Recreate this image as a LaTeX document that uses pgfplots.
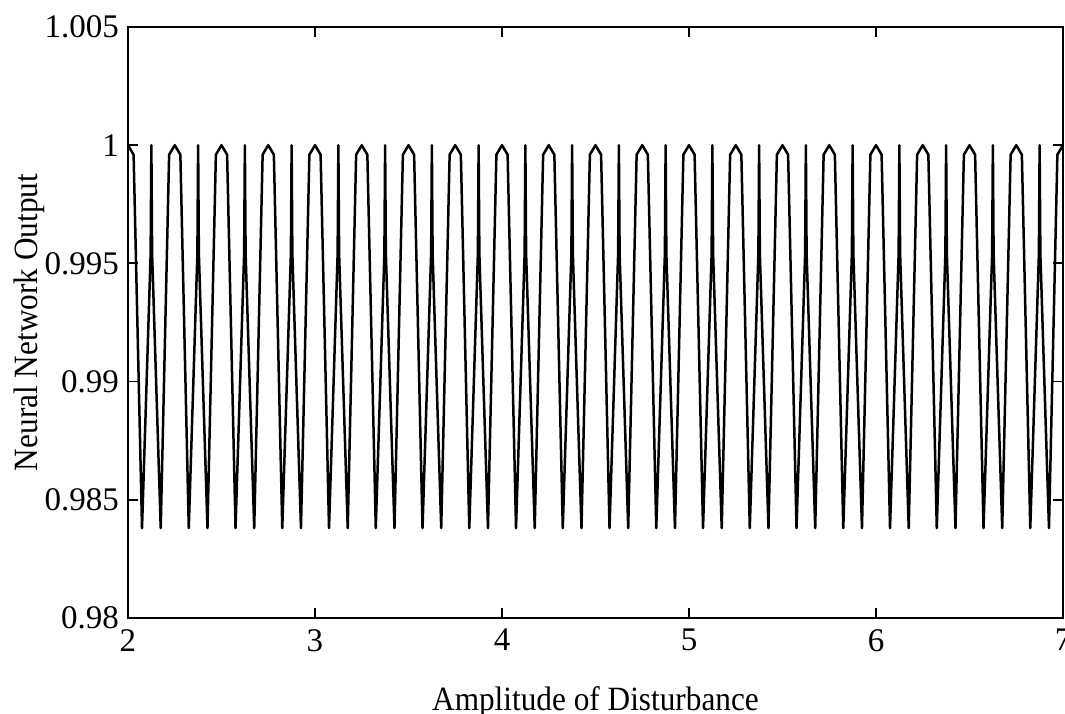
\documentclass[border=0pt]{standalone}
\usepackage{fontspec}
\setmainfont{Liberation Serif}
\newfontfamily\labfont[FakeStretch=0.92]{Liberation Serif}
\usepackage{pgfplots}
\pgfplotsset{compat=1.18}
\begin{document}
\begin{tikzpicture}
\begin{axis}[
  at={(0,0)}, anchor=south west,
  scale only axis, width=935bp, height=591bp,
  xmin=2, xmax=7, ymin=0.98, ymax=1.005,
  xtick={2,3,4,5,6,7}, xticklabels={2,3,4,5,6,7},
  ytick={0.98,0.985,0.99,0.995,1,1.005},
  yticklabels={0.98,0.985,0.99,0.995,1,1.005},
  scaled y ticks=false,
  tick align=inside, major tick length=10bp,
  axis line style={line width=2.2bp},
  every tick/.style={black, line width=1.8bp},
  ticklabel style={font=\fontsize{33bp}{33bp}\selectfont},
  yticklabel style={inner sep=0pt, xshift=-9bp},
  xticklabel style={inner sep=0pt, yshift=-11bp},
  xlabel={Amplitude of Disturbance},
  ylabel={Neural Network Output},
  label style={font=\labfont\fontsize{34bp}{34bp}\selectfont},
  xlabel style={at={(axis description cs:0.5,-0.1557)}, anchor=base},
  ylabel style={at={(axis description cs:-0.0973,0.5)}, anchor=base},
]
\addplot[black, line width=2.5bp, line join=round] coordinates {
(2.000,1.0000) (2.030,0.9996) (2.075,0.9838) (2.121,0.9954) (2.125,1.0000) (2.129,0.9954) (2.175,0.9838) (2.220,0.9996) (2.250,1.0000)
(2.280,0.9996) (2.325,0.9838) (2.371,0.9954) (2.375,1.0000) (2.379,0.9954) (2.425,0.9838) (2.470,0.9996) (2.500,1.0000)
(2.530,0.9996) (2.575,0.9838) (2.621,0.9954) (2.625,1.0000) (2.629,0.9954) (2.675,0.9838) (2.720,0.9996) (2.750,1.0000)
(2.780,0.9996) (2.825,0.9838) (2.871,0.9954) (2.875,1.0000) (2.879,0.9954) (2.925,0.9838) (2.970,0.9996) (3.000,1.0000)
(3.030,0.9996) (3.075,0.9838) (3.121,0.9954) (3.125,1.0000) (3.129,0.9954) (3.175,0.9838) (3.220,0.9996) (3.250,1.0000)
(3.280,0.9996) (3.325,0.9838) (3.371,0.9954) (3.375,1.0000) (3.379,0.9954) (3.425,0.9838) (3.470,0.9996) (3.500,1.0000)
(3.530,0.9996) (3.575,0.9838) (3.621,0.9954) (3.625,1.0000) (3.629,0.9954) (3.675,0.9838) (3.720,0.9996) (3.750,1.0000)
(3.780,0.9996) (3.825,0.9838) (3.871,0.9954) (3.875,1.0000) (3.879,0.9954) (3.925,0.9838) (3.970,0.9996) (4.000,1.0000)
(4.030,0.9996) (4.075,0.9838) (4.121,0.9954) (4.125,1.0000) (4.129,0.9954) (4.175,0.9838) (4.220,0.9996) (4.250,1.0000)
(4.280,0.9996) (4.325,0.9838) (4.371,0.9954) (4.375,1.0000) (4.379,0.9954) (4.425,0.9838) (4.470,0.9996) (4.500,1.0000)
(4.530,0.9996) (4.575,0.9838) (4.621,0.9954) (4.625,1.0000) (4.629,0.9954) (4.675,0.9838) (4.720,0.9996) (4.750,1.0000)
(4.780,0.9996) (4.825,0.9838) (4.871,0.9954) (4.875,1.0000) (4.879,0.9954) (4.925,0.9838) (4.970,0.9996) (5.000,1.0000)
(5.030,0.9996) (5.075,0.9838) (5.121,0.9954) (5.125,1.0000) (5.129,0.9954) (5.175,0.9838) (5.220,0.9996) (5.250,1.0000)
(5.280,0.9996) (5.325,0.9838) (5.371,0.9954) (5.375,1.0000) (5.379,0.9954) (5.425,0.9838) (5.470,0.9996) (5.500,1.0000)
(5.530,0.9996) (5.575,0.9838) (5.621,0.9954) (5.625,1.0000) (5.629,0.9954) (5.675,0.9838) (5.720,0.9996) (5.750,1.0000)
(5.780,0.9996) (5.825,0.9838) (5.871,0.9954) (5.875,1.0000) (5.879,0.9954) (5.925,0.9838) (5.970,0.9996) (6.000,1.0000)
(6.030,0.9996) (6.075,0.9838) (6.121,0.9954) (6.125,1.0000) (6.129,0.9954) (6.175,0.9838) (6.220,0.9996) (6.250,1.0000)
(6.280,0.9996) (6.325,0.9838) (6.371,0.9954) (6.375,1.0000) (6.379,0.9954) (6.425,0.9838) (6.470,0.9996) (6.500,1.0000)
(6.530,0.9996) (6.575,0.9838) (6.621,0.9954) (6.625,1.0000) (6.629,0.9954) (6.675,0.9838) (6.720,0.9996) (6.750,1.0000)
(6.780,0.9996) (6.825,0.9838) (6.871,0.9954) (6.875,1.0000) (6.879,0.9954) (6.925,0.9838) (6.970,0.9996) (7.000,1.0000)
};
\end{axis}
\pgfresetboundingbox
\useasboundingbox (-128bp,-96bp) rectangle (937bp,618bp);
\end{tikzpicture}
\end{document}
